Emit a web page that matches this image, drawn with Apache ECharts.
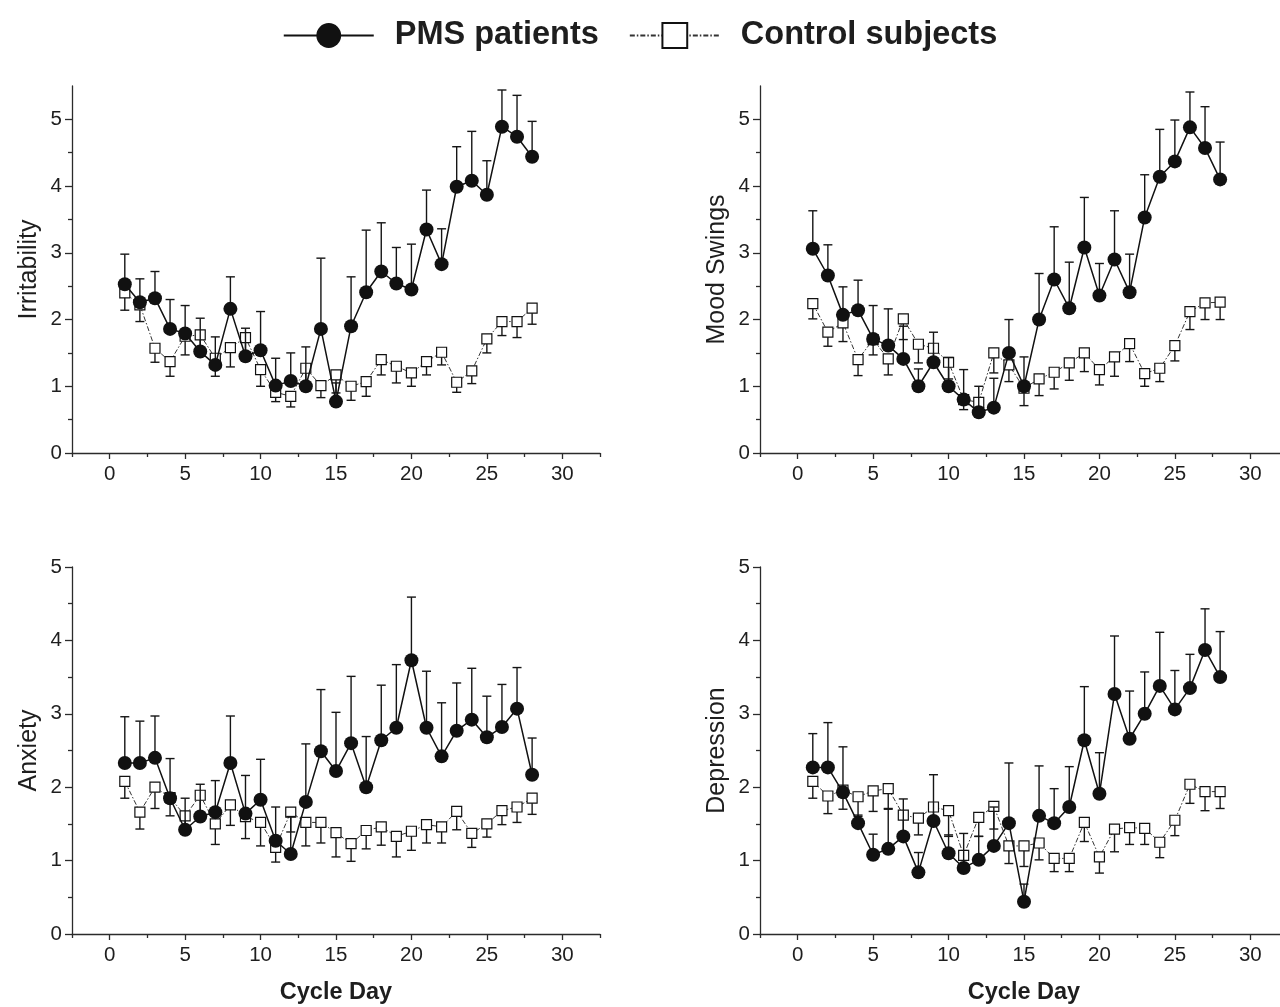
<!DOCTYPE html>
<html>
<head>
<meta charset="utf-8">
<script src="https://cdn.jsdelivr.net/npm/echarts@6/dist/echarts.min.js"></script>
<style>
  html, body { margin: 0; padding: 0; background: #fff; }
  #chart { width: 1280px; height: 1007px; }
</style>
</head>
<body>
<div id="chart"></div>
<script>
// days of the cycle
var days = [1, 2, 3, 4, 5, 6, 7, 8, 9, 10, 11, 12, 13, 14, 15, 16, 17, 18, 19, 20, 21, 22, 23, 24, 25, 26, 27, 28];

// Irritability
var irrPms = [2.53, 2.26, 2.32, 1.86, 1.79, 1.52, 1.32, 2.16, 1.45, 1.54, 1.01, 1.08, 1.00, 1.86, 0.77, 1.90, 2.41, 2.72, 2.54, 2.45, 3.35, 2.83, 3.99, 4.08, 3.87, 4.89, 4.74, 4.44];
var irrPmsTop = [2.98, 2.61, 2.72, 2.30, 2.21, 2.02, 1.74, 2.64, 1.87, 2.12, 1.42, 1.50, 1.59, 2.92, 1.05, 2.64, 3.34, 3.45, 3.08, 3.13, 3.94, 3.36, 4.59, 4.82, 4.38, 5.44, 5.36, 4.97];
var irrCtl = [2.40, 2.22, 1.57, 1.37, 1.75, 1.77, 1.42, 1.58, 1.73, 1.25, 0.91, 0.85, 1.27, 1.01, 1.17, 1.00, 1.07, 1.40, 1.30, 1.20, 1.37, 1.51, 1.06, 1.23, 1.71, 1.97, 1.97, 2.17];
var irrCtlLow = [2.14, 1.97, 1.36, 1.15, 1.47, 1.50, 1.15, 1.29, 1.45, 1.00, 0.77, 0.69, 1.00, 0.83, 0.90, 0.79, 0.85, 1.17, 1.05, 1.00, 1.17, 1.32, 0.91, 1.04, 1.50, 1.76, 1.73, 1.93];

// Mood Swings
var moodPms = [3.06, 2.66, 2.07, 2.14, 1.71, 1.61, 1.41, 1.00, 1.36, 1.00, 0.80, 0.61, 0.68, 1.50, 1.00, 2.00, 2.60, 2.17, 3.08, 2.36, 2.90, 2.41, 3.53, 4.14, 4.37, 4.88, 4.57, 4.10];
var moodPmsTop = [3.63, 3.12, 2.49, 2.59, 2.21, 2.16, 1.90, 1.26, 1.81, 1.43, 1.25, 1.00, 1.12, 2.00, 1.44, 2.69, 3.39, 2.86, 3.83, 2.84, 3.63, 2.98, 4.17, 4.85, 4.99, 5.41, 5.19, 4.66];
var moodCtl = [2.24, 1.81, 1.95, 1.40, 1.70, 1.41, 2.01, 1.63, 1.57, 1.36, 0.80, 0.76, 1.50, 1.32, 0.97, 1.11, 1.21, 1.35, 1.50, 1.25, 1.44, 1.64, 1.19, 1.27, 1.61, 2.12, 2.25, 2.26];
var moodCtlLow = [2.01, 1.60, 1.67, 1.16, 1.47, 1.17, 1.70, 1.35, 1.31, 1.11, 0.65, 0.60, 1.20, 1.07, 0.71, 0.86, 0.96, 1.09, 1.22, 1.02, 1.15, 1.37, 1.00, 1.07, 1.38, 1.85, 2.00, 2.00];

// Anxiety
var anxPms = [2.33, 2.33, 2.40, 1.85, 1.42, 1.60, 1.66, 2.33, 1.64, 1.83, 1.27, 1.09, 1.80, 2.49, 2.22, 2.60, 2.00, 2.64, 2.81, 3.73, 2.81, 2.42, 2.77, 2.92, 2.68, 2.82, 3.07, 2.17];
var anxPmsTop = [2.96, 2.90, 2.97, 2.39, 1.85, 2.04, 2.09, 2.97, 2.16, 2.38, 1.73, 1.60, 2.59, 3.33, 3.02, 3.51, 2.69, 3.39, 3.67, 4.59, 3.58, 3.15, 3.42, 3.62, 3.24, 3.40, 3.63, 2.67];
var anxCtl = [2.08, 1.66, 2.00, 1.86, 1.61, 1.89, 1.50, 1.76, 1.60, 1.52, 1.18, 1.66, 1.52, 1.52, 1.38, 1.23, 1.41, 1.46, 1.33, 1.40, 1.49, 1.46, 1.67, 1.37, 1.50, 1.68, 1.73, 1.85];
var anxCtlLow = [1.85, 1.43, 1.71, 1.61, 1.40, 1.64, 1.22, 1.48, 1.30, 1.20, 0.98, 1.39, 1.20, 1.24, 1.05, 0.99, 1.16, 1.21, 1.05, 1.14, 1.24, 1.24, 1.42, 1.18, 1.32, 1.49, 1.52, 1.63];

// Depression
var depPms = [2.27, 2.27, 1.93, 1.51, 1.08, 1.16, 1.33, 0.84, 1.54, 1.10, 0.90, 1.01, 1.20, 1.51, 0.44, 1.61, 1.51, 1.73, 2.64, 1.91, 3.27, 2.66, 3.00, 3.38, 3.06, 3.35, 3.87, 3.50];
var depPmsTop = [2.73, 2.88, 2.55, 1.62, 1.36, 1.71, 1.84, 1.11, 2.17, 1.35, 1.37, 1.33, 1.73, 2.33, 0.68, 2.29, 1.98, 2.28, 3.37, 2.47, 4.06, 3.31, 3.57, 4.11, 3.59, 3.81, 4.43, 4.12];
var depCtl = [2.08, 1.88, 1.96, 1.87, 1.95, 1.98, 1.62, 1.58, 1.73, 1.68, 1.07, 1.59, 1.74, 1.20, 1.20, 1.24, 1.03, 1.03, 1.52, 1.05, 1.43, 1.45, 1.44, 1.25, 1.55, 2.04, 1.94, 1.94];
var depCtlLow = [1.85, 1.64, 1.70, 1.60, 1.67, 1.70, 1.35, 1.35, 1.48, 1.33, 0.90, 1.33, 1.43, 0.96, 0.92, 1.01, 0.85, 0.85, 1.26, 0.83, 1.12, 1.22, 1.22, 1.04, 1.34, 1.78, 1.68, 1.71];

var xMajorTicks = [0, 5, 10, 15, 20, 25, 30];
var xMinorTicks = [-2.5, 2.5, 7.5, 12.5, 17.5, 22.5, 27.5, 32.5];
var yMajorTicks = [0, 1, 2, 3, 4, 5];
var yMinorTicks = [0.5, 1.5, 2.5, 3.5, 4.5];

var panels = [
    { name: 'Irritability', pms: irrPms, pmsEnd: irrPmsTop, ctl: irrCtl, ctlEnd: irrCtlLow, yMax: 5.5, left: 72, top: 86, xName: '' },
    { name: 'Mood Swings', pms: moodPms, pmsEnd: moodPmsTop, ctl: moodCtl, ctlEnd: moodCtlLow, yMax: 5.5, left: 760, top: 86, xName: '' },
    { name: 'Anxiety', pms: anxPms, pmsEnd: anxPmsTop, ctl: anxCtl, ctlEnd: anxCtlLow, yMax: 5, left: 72, top: 567, xName: 'Cycle Day' },
    { name: 'Depression', pms: depPms, pmsEnd: depPmsTop, ctl: depCtl, ctlEnd: depCtlLow, yMax: 5, left: 760, top: 567, xName: 'Cycle Day' }
];

var FONT = 'Liberation Sans, Arial, sans-serif';
var AXIS_COLOR = '#2b2b2b';
var TEXT_COLOR = '#1e1e1e';

function pairs(vals) {
    var out = [];
    for (var i = 0; i < days.length; i++) out.push([days[i], vals[i]]);
    return out;
}

function triples(vals, ends) {
    var out = [];
    for (var i = 0; i < days.length; i++) out.push([days[i], vals[i], ends[i]]);
    return out;
}

function renderErr(params, api) {
    var a = api.coord([api.value(0), api.value(1)]);
    var b = api.coord([api.value(0), api.value(2)]);
    var st = { stroke: '#151515', lineWidth: 1.4 };
    return {
        type: 'group',
        children: [
            { type: 'line', shape: { x1: a[0], y1: a[1], x2: b[0], y2: b[1] }, style: st },
            { type: 'line', shape: { x1: b[0] - 4.5, y1: b[1], x2: b[0] + 4.5, y2: b[1] }, style: st }
        ]
    };
}

var tickLine = { color: AXIS_COLOR, width: 1.3 };
var grids = [], xAxes = [], yAxes = [], series = [];

panels.forEach(function (p, k) {
    grids.push({ left: p.left, top: p.top, width: 528, height: 367, outerBoundsMode: 'none', containLabel: false });
    xAxes.push({
        type: 'value', gridIndex: k, min: -2.5, max: 32.5, position: 'bottom',
        name: p.xName, nameLocation: 'middle', nameGap: 47,
        nameTextStyle: { fontFamily: FONT, fontSize: 23.5, fontWeight: 'bold', color: TEXT_COLOR },
        axisLine: { onZero: false, lineStyle: { color: AXIS_COLOR, width: 1.3 } },
        axisTick: { customValues: xMajorTicks, length: 6, lineStyle: tickLine },
        axisLabel: { customValues: xMajorTicks, fontFamily: FONT, fontSize: 20.5, color: TEXT_COLOR, margin: 11 },
        splitLine: { show: false }
    });
    // second x axis only carries the minor ticks
    xAxes.push({
        type: 'value', gridIndex: k, min: -2.5, max: 32.5, position: 'bottom', offset: 0,
        axisLine: { show: false, onZero: false },
        axisTick: { show: true, customValues: xMinorTicks, length: 4, lineStyle: tickLine },
        axisLabel: { show: false },
        splitLine: { show: false }
    });
    yAxes.push({
        type: 'value', gridIndex: k, min: 0, max: p.yMax, position: 'left',
        name: p.name, nameLocation: 'middle', nameGap: 30, nameRotate: 90,
        nameTextStyle: { fontFamily: FONT, fontSize: 25, color: TEXT_COLOR },
        axisLine: { show: true, onZero: false, lineStyle: { color: AXIS_COLOR, width: 1.3 } },
        axisTick: { show: true, customValues: yMajorTicks, length: 7, lineStyle: tickLine },
        axisLabel: { customValues: yMajorTicks, fontFamily: FONT, fontSize: 20.5, color: TEXT_COLOR, margin: 10 },
        splitLine: { show: false }
    });
    // second y axis only carries the minor ticks
    yAxes.push({
        type: 'value', gridIndex: k, min: 0, max: p.yMax, position: 'left', offset: 0,
        axisLine: { show: false, onZero: false },
        axisTick: { show: true, customValues: yMinorTicks, length: 4, lineStyle: tickLine },
        axisLabel: { show: false },
        splitLine: { show: false }
    });

    series.push({
        name: 'Control subjects', type: 'line', xAxisIndex: 2 * k, yAxisIndex: 2 * k,
        data: pairs(p.ctl), symbol: 'rect', symbolSize: 10,
        lineStyle: { color: '#333', width: 1, type: [5, 2, 1.5, 2] },
        itemStyle: { color: '#fff', borderColor: '#111', borderWidth: 1.2 },
        z: 3, animation: false
    });
    series.push({
        name: 'ctlErr' + k, type: 'custom', xAxisIndex: 2 * k, yAxisIndex: 2 * k,
        data: triples(p.ctl, p.ctlEnd), renderItem: renderErr,
        encode: { x: 0, y: [1, 2] }, z: 2, animation: false
    });
    series.push({
        name: 'PMS patients', type: 'line', xAxisIndex: 2 * k, yAxisIndex: 2 * k,
        data: pairs(p.pms), symbol: 'circle', symbolSize: 14,
        lineStyle: { color: '#111', width: 1.5 },
        itemStyle: { color: '#111', borderColor: '#111', borderWidth: 0 },
        z: 5, animation: false
    });
    series.push({
        name: 'pmsErr' + k, type: 'custom', xAxisIndex: 2 * k, yAxisIndex: 2 * k,
        data: triples(p.pms, p.pmsEnd), renderItem: renderErr,
        encode: { x: 0, y: [1, 2] }, z: 4, animation: false
    });
});

var chart = echarts.init(document.getElementById('chart'));
chart.setOption({
    backgroundColor: '#fff',
    animation: false,
    legend: {
        data: ['PMS patients', 'Control subjects'],
        top: 14, left: 'center',
        itemWidth: 90, itemHeight: 31, itemGap: 30,
        selectedMode: false,
        textStyle: { fontFamily: FONT, fontSize: 32.5, fontWeight: 'bold', color: TEXT_COLOR, padding: [0, 0, 0, 16] }
    },
    grid: grids,
    xAxis: xAxes,
    yAxis: yAxes,
    series: series
});
</script>
</body>
</html>
